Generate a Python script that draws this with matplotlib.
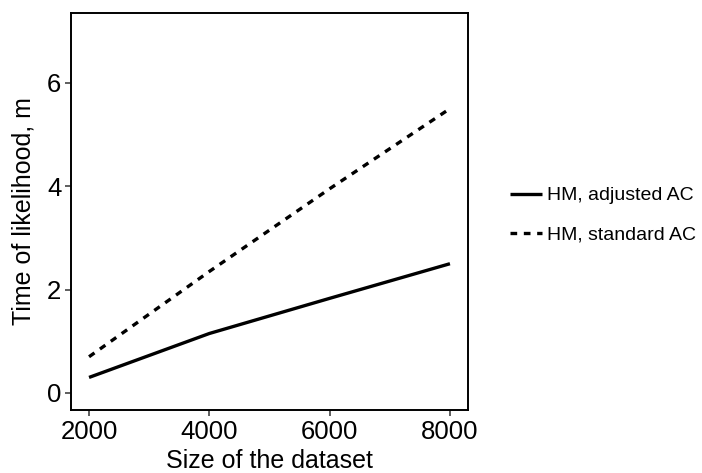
import matplotlib.pyplot as plt

plt.rcParams['font.family'] = ['Liberation Sans', 'DejaVu Sans']

# dataset sizes and likelihood times (minutes)
sizes = [2000, 4000, 6000, 8000]
adjusted_ac = [0.3, 1.15, 1.83, 2.5]
standard_ac = [0.7, 2.35, 3.95, 5.5]
series_labels = ['HM, adjusted AC', 'HM, standard AC']

fig = plt.figure(figsize=(7.02, 4.73), dpi=100)
ax = fig.add_axes([71 / 702, 1 - 410 / 473, 397 / 702, 397 / 473])

ax.plot(sizes, adjusted_ac, color='black', lw=2.4, solid_capstyle='butt',
        label=series_labels[0])
ax.plot(sizes, standard_ac, color='black', lw=2.4, dashes=(2.0, 2.0),
        dash_capstyle='butt', label=series_labels[1])

ax.set_xlim(1700, 8300)
ax.set_ylim(-0.33, 7.35)
ax.set_xticks([2000, 4000, 6000, 8000])
ax.set_yticks([0, 2, 4, 6])
ax.tick_params(labelsize=18.5, length=4, width=1.1, color='#333333',
               labelcolor='black', pad=3)
for s in ax.spines.values():
    s.set_linewidth(1.4)
    s.set_color('black')

ax.set_xlabel('Size of the dataset', fontsize=18, labelpad=4)
ax.set_ylabel('Time of likelihood, m', fontsize=18, labelpad=8)

fig.legend(loc='center left', bbox_to_anchor=(510 / 702, 1 - 215 / 473),
           frameon=False, fontsize=14, handlelength=1.64, handletextpad=0.26,
           labelspacing=1.1, borderpad=0, borderaxespad=0)

fig.savefig('out.png', dpi=100)
